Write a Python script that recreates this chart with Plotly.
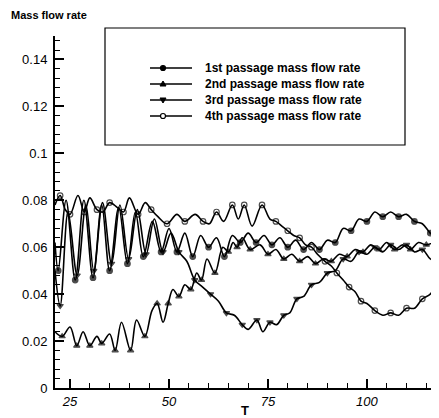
import plotly.graph_objects as go

# ---- data ----
t1 = [21.2, 22.0, 24.0, 26.3, 28.5, 30.8, 33.0, 35.0, 37.3, 39.5, 41.5, 43.5, 45.8, 48.0,
      50.0, 52.0, 54.0, 56.0, 58.0, 60.0, 62.0, 64.0, 66.0, 68.0, 70.0, 72.0, 74.0, 76.0,
      78.0, 80.0, 82.0, 84.0, 86.0, 88.0, 90.0, 92.0, 94.0, 96.0, 98.0, 100.0, 102.0,
      104.0, 106.0, 108.0, 110.0, 112.0, 114.0, 116.0, 117.8]
v1 = [0.062, 0.050, 0.080, 0.046, 0.080, 0.047, 0.078, 0.050, 0.077, 0.053, 0.075, 0.056,
      0.071, 0.058, 0.068, 0.058, 0.066, 0.056, 0.065, 0.060, 0.064, 0.056, 0.065, 0.062,
      0.066, 0.062, 0.065, 0.061, 0.064, 0.060, 0.063, 0.059, 0.062, 0.059, 0.063, 0.062,
      0.068, 0.067, 0.072, 0.071, 0.075, 0.073, 0.075, 0.073, 0.074, 0.071, 0.070, 0.066,
      0.064]

t2 = [21.2, 23.0, 25.0, 26.7, 28.3, 30.0, 31.8, 33.0, 35.0, 36.4, 38.0, 40.3, 41.8, 43.9,
      45.7, 47.0, 48.5, 49.8, 51.0, 52.5, 54.0, 55.5, 57.0, 58.2, 59.6, 61.6, 63.6, 65.0,
      66.2, 67.2, 68.5, 70.5, 73.0, 75.0, 77.0, 79.0, 81.0, 83.0, 85.0, 87.0, 89.0, 91.0,
      93.0, 95.0, 97.0, 99.0, 101.0, 103.0, 105.0, 107.0, 109.0, 111.0, 113.0, 115.0, 117.8]
v2 = [0.024, 0.022, 0.026, 0.018, 0.024, 0.018, 0.022, 0.019, 0.023, 0.016, 0.028, 0.016,
      0.029, 0.022, 0.033, 0.036, 0.028, 0.036, 0.042, 0.039, 0.044, 0.042, 0.049, 0.046,
      0.055, 0.049, 0.060, 0.058, 0.062, 0.060, 0.064, 0.059, 0.061, 0.057, 0.059, 0.055,
      0.057, 0.054, 0.056, 0.053, 0.055, 0.054, 0.057, 0.056, 0.059, 0.058, 0.061, 0.059,
      0.062, 0.059, 0.061, 0.059, 0.062, 0.061, 0.063]

t3 = [21.2, 22.5, 24.5, 26.8, 29.0, 31.0, 33.2, 35.5, 37.6, 39.8, 42.0, 44.2, 46.3, 48.5,
      50.5, 52.5, 54.5, 56.5, 58.5, 60.5, 62.5, 64.5, 66.5, 68.5, 70.0, 72.2, 73.7, 75.5,
      77.2, 79.0, 80.5, 82.3, 84.0, 86.0, 88.0, 90.0, 92.0, 94.0, 96.0, 98.0, 100.0, 102.0,
      104.0, 106.0, 108.0, 110.0, 112.0, 114.0, 116.0, 117.8]
v3 = [0.050, 0.035, 0.075, 0.048, 0.078, 0.050, 0.079, 0.053, 0.078, 0.055, 0.076, 0.057,
      0.072, 0.058, 0.066, 0.058, 0.054, 0.046, 0.043, 0.040, 0.037, 0.032, 0.031, 0.027,
      0.025, 0.029, 0.024, 0.028, 0.027, 0.031, 0.032, 0.038, 0.039, 0.044, 0.045, 0.049,
      0.050, 0.055, 0.054, 0.058, 0.057, 0.060, 0.058, 0.061, 0.059, 0.061, 0.058, 0.059,
      0.055, 0.054]

t4 = [21.2, 22.5, 23.8, 25.0, 27.0, 28.6, 30.0, 31.8, 33.3, 35.0, 36.9, 38.5, 40.0, 42.2,
      44.0, 45.5, 47.2, 49.5, 52.0, 54.0, 56.6, 58.6, 60.2, 62.0, 63.8, 66.0, 67.5, 69.0,
      71.0, 73.5, 75.5, 77.0, 78.5, 80.0, 81.5, 83.0, 84.5, 86.0, 87.5, 89.4, 91.0, 92.4,
      94.0, 95.5, 97.0, 98.5, 100.0, 102.0, 104.0, 106.0, 108.0, 110.0, 112.0, 114.0,
      116.0, 117.8]
v4 = [0.078, 0.082, 0.076, 0.074, 0.082, 0.075, 0.081, 0.076, 0.075, 0.079, 0.077, 0.075,
      0.081, 0.074, 0.079, 0.076, 0.073, 0.070, 0.074, 0.071, 0.074, 0.071, 0.070, 0.075,
      0.071, 0.078, 0.072, 0.078, 0.069, 0.078, 0.072, 0.071, 0.069, 0.067, 0.065, 0.064,
      0.061, 0.060, 0.057, 0.054, 0.052, 0.049, 0.046, 0.043, 0.041, 0.037, 0.036, 0.033,
      0.031, 0.032, 0.031, 0.034, 0.034, 0.038, 0.040, 0.045]

names = ["1st passage mass flow rate", "2nd passage mass flow rate",
         "3rd passage mass flow rate", "4th passage mass flow rate"]
y_ticks = [0, 0.02, 0.04, 0.06, 0.08, 0.1, 0.12, 0.14]
x_ticks = [25, 50, 75, 100]

FONT = "Liberation Sans, Arial, sans-serif"
symbols = ["circle", "triangle-up", "triangle-down", "circle-open"]
series = [(t1, v1), (t2, v2), (t3, v3), (t4, v4)]

# page body has an 8px margin: figure is offset by it
OFF = 8
PL, PR, PT, PB = 55, 437, 36, 388          # plot area in window pixels
W, H = 439 - OFF, 418 - OFF


def px(X):
    return (X - PL) / (PR - PL)


def py(Y):
    return (PB - Y) / (PB - PT)


fig = go.Figure()
for (t, v), sym, name in zip(series, symbols, names):
    sizes = [5.5 if i % 2 == 1 else 0 for i in range(len(t))]
    fig.add_trace(go.Scatter(
        x=t, y=v, name=name, mode="lines+markers", showlegend=False,
        line=dict(color="black", width=1.6, shape="spline", smoothing=1.0),
        marker=dict(symbol=sym, size=sizes, color="black",
                    line=dict(color="black", width=1.2)),
    ))

fig.update_layout(
    width=W, height=H,
    margin=dict(l=PL - OFF, r=W - (PR - OFF), t=PT - OFF, b=H - (PB - OFF)),
    paper_bgcolor="white", plot_bgcolor="white",
    font=dict(family=FONT, color="black"),
    showlegend=False,
    xaxis=dict(range=[21.2, 117.7], tickvals=x_ticks, ticks="inside", ticklen=9,
               tickwidth=2, tickcolor="black", showline=True, linewidth=2,
               linecolor="black", showgrid=False, zeroline=False, mirror=False,
               tickfont=dict(family=FONT, size=13, style="italic"),
               minor=dict(dtick=5, tick0=0, ticks="inside", ticklen=5, tickwidth=1,
                          tickcolor="black", showgrid=False)),
    yaxis=dict(range=[0, 0.15], tickvals=y_ticks, ticks="inside", ticklen=9,
               tickwidth=2, tickcolor="black", showline=True, linewidth=2,
               linecolor="black", showgrid=False, zeroline=False, mirror=False,
               tickfont=dict(family=FONT, size=13), ticklabelstandoff=3,
               minor=dict(dtick=0.004, tick0=0, ticks="inside", ticklen=5, tickwidth=1,
                          tickcolor="black", showgrid=False)),
)

# ---- manual legend ----
fig.add_shape(type="rect", xref="paper", yref="paper",
              x0=px(105), x1=px(405), y0=py(145), y1=py(28),
              line=dict(color="black", width=1.2), fillcolor="rgba(0,0,0,0)")
rows = [68, 84, 100, 116]
for Y, sym, name in zip(rows, symbols, names):
    fig.add_shape(type="line", xref="paper", yref="paper",
                  x0=px(150), x1=px(192), y0=py(Y), y1=py(Y),
                  line=dict(color="black", width=1.3))
    cx = 163
    if sym.startswith("circle"):
        fig.add_shape(type="circle", xref="paper", yref="paper",
                      x0=px(cx - 2.5), x1=px(cx + 2.5), y0=py(Y + 2.5), y1=py(Y - 2.5),
                      line=dict(color="black", width=1.2),
                      fillcolor="black" if sym == "circle" else "white")
    elif sym == "triangle-up":
        path = "M {} {} L {} {} L {} {} Z".format(px(cx - 3), py(Y + 2), px(cx + 3), py(Y + 2),
                                                 px(cx), py(Y - 3))
        fig.add_shape(type="path", xref="paper", yref="paper", path=path,
                      line=dict(color="black", width=1), fillcolor="black")
    else:
        path = "M {} {} L {} {} L {} {} Z".format(px(cx - 3), py(Y - 2), px(cx + 3), py(Y - 2),
                                                 px(cx), py(Y + 3))
        fig.add_shape(type="path", xref="paper", yref="paper", path=path,
                      line=dict(color="black", width=1), fillcolor="black")
    fig.add_annotation(text="<b>" + name + "</b>", xref="paper", yref="paper",
                       x=px(203), y=py(Y), xanchor="left", yanchor="middle",
                       showarrow=False, font=dict(family=FONT, size=12))

fig.add_annotation(text="<b>Mass flow rate</b>", xref="paper", yref="paper",
                   x=px(9), y=py(15), xanchor="left", yanchor="middle",
                   showarrow=False, font=dict(family=FONT, size=11))
fig.add_annotation(text="<b>T</b>", xref="x", yref="paper",
                   x=69.2, y=py(410), xanchor="center", yanchor="middle",
                   showarrow=False, font=dict(family=FONT, size=13))

fig.write_html("out.html")
